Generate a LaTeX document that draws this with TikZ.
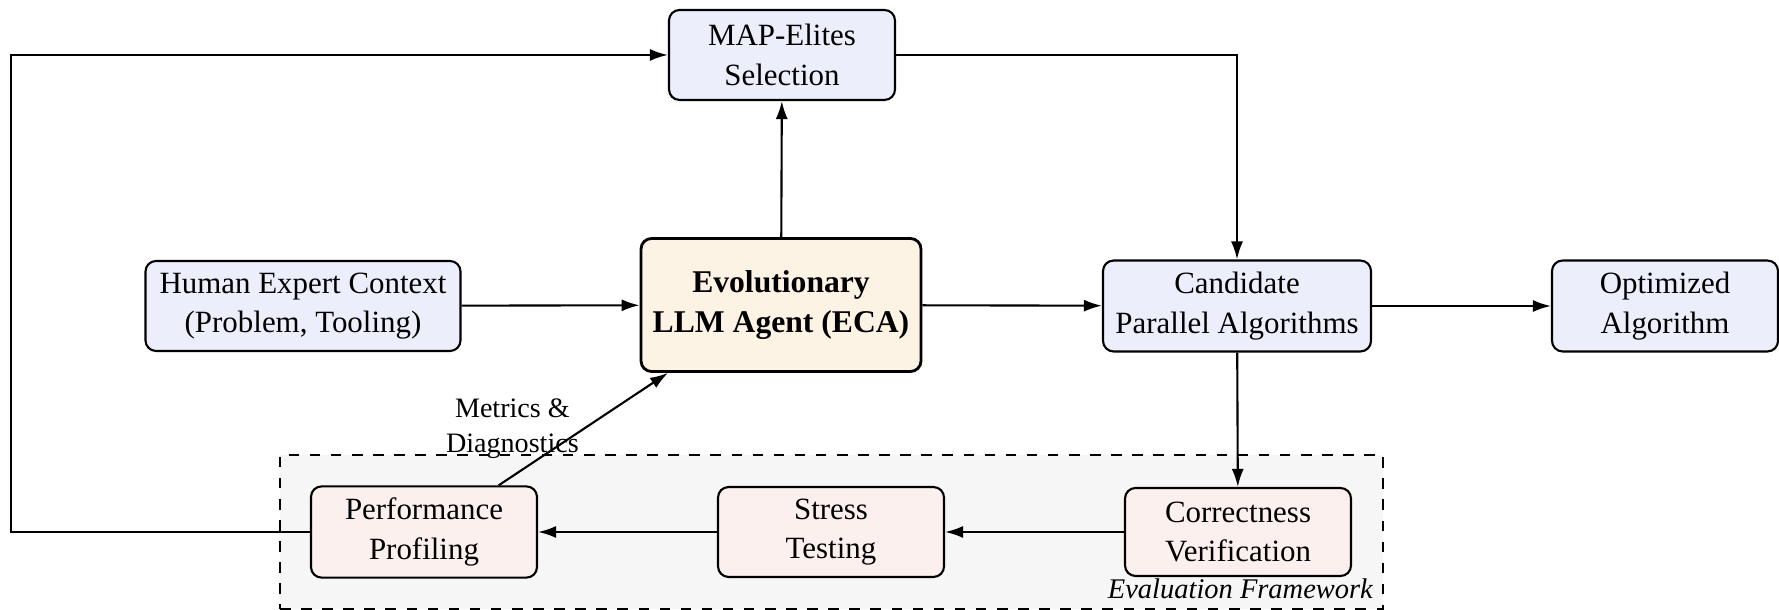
\documentclass[tikz,border=0pt]{standalone}
\usepackage{fontspec}
\setmainfont{Liberation Serif}
\usetikzlibrary{arrows.meta}
\usetikzlibrary{calc}

\definecolor{boxblue}{RGB}{236,238,251}
\definecolor{ecapeach}{RGB}{253,243,229}
\definecolor{evalpink}{RGB}{252,240,238}
\definecolor{evalgray}{RGB}{246,246,246}

\tikzset{
    flowbox/.style={draw, rounded corners=3pt, semithick, align=center, fill=boxblue,
        minimum width=2.26cm, minimum height=0.9cm, font=\fontsize{8.8}{11.2}\selectfont},
    evalstep/.style={flowbox, fill=evalpink, minimum height=0.88cm},
    agentbox/.style={flowbox, fill=ecapeach, thick, minimum width=2.76cm, minimum height=1.33cm,
        font=\fontsize{9}{11.2}\selectfont\bfseries},
    evalframe/.style={draw, dashed, semithick, fill=evalgray, inner sep=0pt},
    flow/.style={-{Latex[length=1.8mm,width=1.2mm]}, semithick}
}

\begin{document}
\begin{tikzpicture}
        \useasboundingbox (0,0) rectangle (17.79,6.10);

        % evaluation framework behind the checks
        \node[evalframe, minimum width=11.03cm, minimum height=1.54cm] (evalfw) at (8.315,0.78) {};
        \node[anchor=south east, inner sep=3pt, font=\fontsize{8.1}{10}\selectfont\itshape] (evallabel) at (evalfw.south east) {Evaluation Framework};

        \node[flowbox] (mapel) at (7.82,5.55) {MAP-Elites\\Selection};
        \node[flowbox, minimum width=3.15cm] (human) at (3.03,3.04) {Human Expert Context\\(Problem, Tooling)};
        \node[agentbox] (eca) at (7.81,3.05) {Evolutionary\\LLM Agent (ECA)};
        \node[flowbox, minimum width=2.68cm] (cand) at (12.37,3.04) {Candidate\\Parallel Algorithms};
        \node[flowbox] (optim) at (16.65,3.04) {Optimized\\Algorithm};

        \node[evalstep] (perf) at (4.24,0.78) {Performance\\Profiling};
        \node[evalstep] (stress) at (8.31,0.78) {Stress\\Testing};
        \node[evalstep] (corr) at (12.38,0.78) {Correctness\\Verification};

        \coordinate (loopbot) at (0.11,0.78);
        \coordinate (looptop) at (0.11,5.55);
        \coordinate (mapturn) at (cand.north |- mapel.east);

        \draw[flow] (human) -- (eca);
        \draw[flow] (eca) -- (cand);
        \draw[flow] (cand) -- (optim);
        \draw[flow] (eca) -- (mapel);
        \draw[flow] (mapel.east) -- (mapturn) -- (cand.north);
        \draw[flow] (cand) -- (corr);
        \draw[flow] (corr) -- (stress);
        \draw[flow] (stress) -- (perf);
        \draw[flow] (perf.west) -- (loopbot) -- (looptop) -- (mapel.west);
        \draw[flow] (perf.32) -- (eca.211) node[midway, left, inner sep=1pt, align=center, font=\fontsize{8}{10}\selectfont] (metlabel) {Metrics \&\\Diagnostics};

    \end{tikzpicture}
\end{document}
